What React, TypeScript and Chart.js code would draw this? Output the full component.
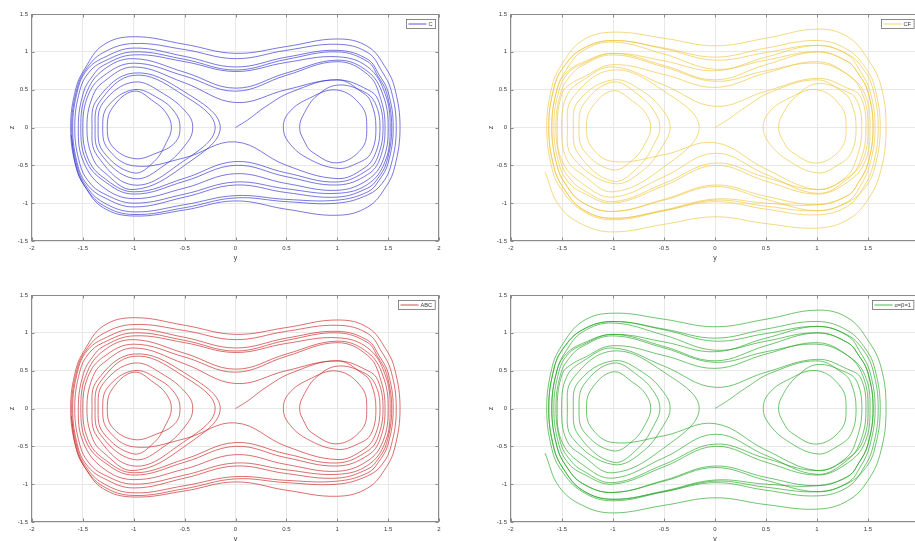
import React, { useEffect, useRef } from "react";
import { Chart, registerables } from "chart.js";

Chart.register(...registerables);

// ---------- data ----------
const X_TICKS = [-2, -1.5, -1, -0.5, 0, 0.5, 1, 1.5, 2];
const Z_TICKS = [-1.5, -1, -0.5, 0, 0.5, 1, 1.5];
const X_MIN = -2;
const X_MAX = 2;
const Z_MIN = -1.5;
const Z_MAX = 1.5;
const X_TITLE = "y";
const Z_TITLE = "z";
const LABELS = ["C", "CF", "ABC", "\u03b1=\u03b2=1"];

// phase trajectory (y, z) read from the upper-left / lower-left panels
const PATH_C: [number, number][] = [
  [0, 0], [0.12, 0.1], [0.3, 0.28], [0.55, 0.47], [1, 0.63], [1.25, 0.46], [1.33, 0.34], [1.38, 0], [1.33, -0.34],
  [1.2, -0.47], [1, -0.54], [0.7, -0.4], [0.52, -0.19], [0.47, 0], [0.52, 0.19],
  [0.7, 0.37], [1, 0.495], [1.24, 0.28], [1.29, 0], [1.24, -0.28], [1, -0.467], [0.75, -0.32], [0.68, -0.19], [0.63, 0], [0.68, 0.2],
  [0.8, 0.42], [1, 0.56], [1.25, 0.48], [1.37, 0.33], [1.42, 0], [1.37, -0.36], [1.25, -0.55], [1, -0.675], [0.5, -0.5], [0, -0.19], [-0.5, -0.4],
  [-1, -0.507], [-1.255, -0.28], [-1.305, 0], [-1.255, 0.28], [-1, 0.5], [-0.75, 0.38], [-0.595, 0.2], [-0.545, 0], [-0.595, -0.2],
  [-0.78, -0.34], [-1, -0.41], [-1.21, -0.25], [-1.26, 0], [-1.21, 0.26], [-1, 0.48], [-0.8, 0.34], [-0.68, 0.19], [-0.63, 0], [-0.68, -0.2],
  [-0.8, -0.45], [-1, -0.6], [-1.3, -0.32], [-1.35, 0], [-1.3, 0.33], [-1, 0.6], [-0.7, 0.44], [-0.47, 0.18], [-0.42, 0], [-0.47, -0.19],
  [-0.7, -0.5], [-1, -0.675], [-1.33, -0.34], [-1.38, 0], [-1.33, 0.35], [-1, 0.69], [-0.55, 0.46], [-0.2, 0], [-0.55, -0.48],
  [-1, -0.76], [-1.36, -0.37], [-1.41, 0], [-1.36, 0.37], [-1, 0.72], [-0.5, 0.47], [-0.15, 0], [-0.5, -0.5],
  [-1, -0.82], [-1.3, -0.58], [-1.41, -0.38],
  [-1.46, 0], [-1.41, 0.39], [-1.3, 0.6], [-1, 0.8], [-0.5, 0.59], [0, 0.33], [0.5, 0.5], [1, 0.63], [1.3, 0.5], [1.4, 0.37], [1.45, 0],
  [1.4, -0.38], [1.3, -0.56], [1, -0.72], [0.5, -0.6], [0, -0.45], [-0.5, -0.67], [-1, -0.85], [-1.3, -0.66], [-1.45, -0.41],
  [-1.5, 0], [-1.45, 0.42], [-1.3, 0.68], [-1, 0.85], [-0.5, 0.68], [0, 0.48], [0.5, 0.69], [1, 0.87], [1.3, 0.7], [1.42, 0.41], [1.47, 0],
  [1.42, -0.41], [1.3, -0.62], [1, -0.76], [0.5, -0.65], [0, -0.5], [-0.5, -0.71], [-1, -0.88], [-1.3, -0.7], [-1.47, -0.43],
  [-1.52, 0], [-1.47, 0.44], [-1.3, 0.76], [-1, 0.91], [-0.5, 0.73], [0, 0.52], [0.5, 0.72], [1, 0.89], [1.3, 0.74], [1.45, 0.43], [1.5, 0],
  [1.45, -0.43], [1.3, -0.69], [1, -0.83], [0.5, -0.74], [0, -0.61], [-0.5, -0.8], [-1, -0.94], [-1.3, -0.79], [-1.495, -0.45],
  [-1.545, 0], [-1.495, 0.46], [-1.405, 0.68], [-1.3, 0.82], [-1, 0.96], [-0.5, 0.87], [0, 0.74], [0.5, 0.86], [1, 0.935], [1.3, 0.8], [1.47, 0.45], [1.52, 0],
  [1.47, -0.45], [1.3, -0.75], [1, -0.87], [0.5, -0.81], [0, -0.72], [-0.5, -0.88], [-1, -1.0], [-1.3, -0.87], [-1.44, -0.72], [-1.53, -0.48],
  [-1.58, 0], [-1.53, 0.49], [-1.44, 0.73], [-1.3, 0.87], [-1, 1.0], [-0.5, 0.9], [0, 0.76], [0.5, 0.9], [1, 1.0], [1.3, 0.87], [1.395, 0.69], [1.485, 0.46], [1.535, 0],
  [1.485, -0.46], [1.395, -0.68], [1.3, -0.8], [1, -0.92], [0.5, -0.86], [0, -0.76], [-0.5, -0.92], [-1, -1.05], [-1.3, -0.92], [-1.46, -0.75], [-1.55, -0.5],
  [-1.6, 0], [-1.55, 0.5], [-1.46, 0.76], [-1.3, 0.92], [-1, 1.05], [-0.5, 0.94], [0, 0.8], [0.5, 0.93], [1, 1.02], [1.3, 0.9], [1.41, 0.7], [1.5, 0.47], [1.55, 0],
  [1.5, -0.47], [1.41, -0.7], [1.3, -0.85], [1, -0.96], [0.5, -0.95], [0, -0.9], [-0.5, -1.02], [-1, -1.115], [-1.3, -0.99], [-1.47, -0.77], [-1.56, -0.5],
  [-1.61, 0], [-1.56, 0.5], [-1.47, 0.77], [-1.3, 0.99], [-1, 1.11], [-0.5, 1.03], [0, 0.91], [0.5, 1.02], [1, 1.1], [1.3, 0.99], [1.44, 0.74], [1.53, 0.49], [1.58, 0],
  [1.53, -0.49], [1.44, -0.74], [1.3, -0.89], [1, -1.0], [0.5, -0.98], [0, -0.93], [-0.5, -1.06], [-1, -1.15], [-1.3, -1.03], [-1.48, -0.78], [-1.57, -0.51],
  [-1.62, 0], [-1.57, 0.51], [-1.48, 0.78], [-1.3, 1.09], [-1, 1.2], [-0.5, 1.1], [0, 0.98], [0.5, 1.07], [1, 1.17], [1.3, 1.07], [1.48, 0.78], [1.567, 0.51], [1.617, 0],
  [1.567, -0.51], [1.48, -0.78], [1.3, -1.05], [1, -1.16], [0.5, -1.08], [0, -0.97], [-0.5, -1.09], [-1, -1.17], [-1.3, -1.06], [-1.48, -0.78], [-1.57, -0.5], [-1.615, -0.1],
];

// phase trajectory (y, z) read from the upper-right / lower-right panels
const PATH_CF: [number, number][] = [
  [0, 0], [0.12, 0.1], [0.3, 0.27], [0.55, 0.47], [1, 0.63], [1.25, 0.47], [1.333, 0.34], [1.383, 0], [1.333, -0.34],
  [1.2, -0.5], [1, -0.6], [0.7, -0.42], [0.523, -0.19], [0.473, 0], [0.523, 0.19],
  [0.7, 0.37], [1, 0.5], [1.235, 0.28], [1.285, 0], [1.235, -0.28], [1, -0.47], [0.75, -0.32], [0.673, -0.19], [0.623, 0], [0.673, 0.2],
  [0.8, 0.42], [1, 0.58], [1.28, 0.48], [1.39, 0.36], [1.44, 0], [1.39, -0.4], [1.28, -0.66], [1, -0.82], [0.5, -0.55], [0, -0.2], [-0.5, -0.36],
  [-1, -0.45], [-1.21, -0.26], [-1.26, 0], [-1.21, 0.26], [-1, 0.485], [-0.8, 0.34], [-0.68, 0.19], [-0.63, 0], [-0.68, -0.2],
  [-0.8, -0.42], [-1, -0.56], [-1.283, -0.31], [-1.333, 0], [-1.283, 0.32], [-1, 0.6], [-0.75, 0.43], [-0.59, 0.2], [-0.54, 0], [-0.59, -0.2],
  [-0.75, -0.52], [-1, -0.71], [-1.339, -0.35], [-1.389, 0], [-1.339, 0.35], [-1, 0.63], [-0.7, 0.47], [-0.49, 0.19], [-0.44, 0], [-0.49, -0.19],
  [-0.7, -0.56], [-1, -0.74], [-1.397, -0.39], [-1.447, 0], [-1.397, 0.39], [-1, 0.76], [-0.5, 0.48], [-0.155, 0], [-0.5, -0.52],
  [-1, -0.85], [-1.3, -0.62], [-1.454, -0.42],
  [-1.504, 0], [-1.454, 0.42], [-1.3, 0.62], [-1, 0.8], [-0.5, 0.56], [0, 0.28], [0.5, 0.48], [1, 0.65], [1.3, 0.52], [1.43, 0.4], [1.48, 0],
  [1.43, -0.42], [1.3, -0.68], [1, -0.87], [0.5, -0.62], [0, -0.34], [-0.5, -0.65], [-1, -0.92], [-1.3, -0.74], [-1.497, -0.45],
  [-1.547, 0], [-1.497, 0.46], [-1.41, 0.58], [-1.3, 0.66], [-1, 0.83], [-0.5, 0.7], [0, 0.53], [0.5, 0.72], [1, 0.87], [1.3, 0.7], [1.45, 0.43], [1.5, 0],
  [1.45, -0.43], [1.3, -0.66], [1, -0.82], [0.5, -0.66], [0, -0.47], [-0.5, -0.74], [-1, -0.98], [-1.3, -0.82], [-1.42, -0.68], [-1.51, -0.47],
  [-1.56, 0], [-1.51, 0.47], [-1.42, 0.68], [-1.3, 0.82], [-1, 0.96], [-0.5, 0.8], [0, 0.61], [0.5, 0.75], [1, 0.85], [1.3, 0.7], [1.47, 0.44], [1.52, 0],
  [1.47, -0.45], [1.3, -0.72], [1, -0.88], [0.5, -0.71], [0, -0.5], [-0.5, -0.77], [-1, -1.0], [-1.3, -0.86], [-1.44, -0.72], [-1.53, -0.48],
  [-1.58, 0], [-1.53, 0.49], [-1.44, 0.72], [-1.3, 0.84], [-1, 0.98], [-0.5, 0.82], [0, 0.63], [0.5, 0.83], [1, 1.0], [1.3, 0.87], [1.41, 0.7], [1.5, 0.47], [1.55, 0],
  [1.5, -0.47], [1.41, -0.72], [1.3, -0.9], [1, -1.02], [0.5, -0.91], [0, -0.76], [-0.5, -0.95], [-1, -1.11], [-1.3, -0.99], [-1.46, -0.76], [-1.55, -0.5],
  [-1.6, 0], [-1.55, 0.5], [-1.46, 0.72], [-1.3, 0.86], [-1, 0.98], [-0.5, 0.88], [0, 0.75], [0.5, 0.93], [1, 1.085], [1.3, 0.96], [1.43, 0.73], [1.52, 0.48], [1.57, 0],
  [1.52, -0.48], [1.43, -0.76], [1.3, -0.98], [1, -1.1], [0.5, -0.95], [0, -0.78], [-0.5, -0.96], [-1, -1.11], [-1.3, -0.99], [-1.46, -0.76], [-1.55, -0.5],
  [-1.6, 0], [-1.55, 0.5], [-1.46, 0.76], [-1.3, 1.01], [-1, 1.13], [-0.5, 0.97], [0, 0.77], [0.5, 0.89], [1, 1.0], [1.3, 0.87], [1.41, 0.7], [1.5, 0.47], [1.55, 0],
  [1.5, -0.47], [1.41, -0.72], [1.3, -0.9], [1, -1.02], [0.5, -1.0], [0, -0.945], [-0.5, -1.09], [-1, -1.2], [-1.3, -1.08], [-1.49, -0.79], [-1.58, -0.52],
  [-1.63, 0], [-1.58, 0.52], [-1.49, 0.79], [-1.3, 1.04], [-1, 1.15], [-0.5, 1.04], [0, 0.89], [0.5, 0.99], [1, 1.085], [1.3, 0.97], [1.46, 0.76], [1.55, 0.5], [1.6, 0],
  [1.55, -0.5], [1.46, -0.78], [1.3, -1.04], [1, -1.155], [0.5, -1.08], [0, -0.98], [-0.5, -1.1], [-1, -1.2], [-1.3, -1.08], [-1.49, -0.79], [-1.58, -0.52],
  [-1.63, 0], [-1.58, 0.52], [-1.49, 0.79], [-1.3, 1.04], [-1, 1.15], [-0.5, 1.05], [0, 0.93], [0.5, 1.05], [1, 1.15], [1.3, 1.03], [1.48, 0.78], [1.57, 0.51], [1.62, 0],
  [1.57, -0.51], [1.48, -0.78], [1.3, -0.99], [1, -1.1], [0.5, -1.04], [0, -0.96], [-0.5, -1.1], [-1, -1.22], [-1.3, -1.1], [-1.51, -0.81], [-1.6, -0.53],
  [-1.65, 0], [-1.6, 0.53], [-1.51, 0.815], [-1.3, 1.15], [-1, 1.26], [-0.5, 1.18], [0, 1.08], [0.5, 1.18], [1, 1.3], [1.3, 1.2], [1.5, 0.9], [1.627, 0.55], [1.677, 0],
  [1.627, -0.56], [1.5, -0.95], [1.3, -1.22], [1, -1.33], [0.5, -1.27], [0, -1.18], [-0.5, -1.28], [-1, -1.38], [-1.3, -1.28], [-1.53, -1.03], [-1.666, -0.59],
];

// ---------- styling ----------
const FONT = '"Liberation Sans", Arial, Helvetica, sans-serif';
const TEXT_COLOR = "#3a3a3a";
const AXIS_COLOR = "#8a8a8a";
const GRID_COLOR = "#e8e8e8";
const AXIS_W = 32;
const AXIS_H = 21;
const PAD_T = 14;
const PAD_R = 21;
const PAD_B = 8;

type PanelProps = {
  left: number;
  top: number;
  areaW: number;
  areaH: number;
  path: [number, number][];
  color: string;
  label: string;
  legendInset: number;
};

function makeFramePlugin(label: string, color: string, inset: number) {
  return {
    id: "matlabFrame",
    afterDatasetsDraw(chart: any) {
      const { ctx, chartArea: a, scales } = chart;
      ctx.save();
      const l = Math.round(a.left) - 0.5;
      const r = Math.round(a.right) - 0.5;
      const t = Math.round(a.top) + 0.5;
      const b = Math.round(a.bottom) - 0.5;
      ctx.strokeStyle = AXIS_COLOR;
      ctx.lineWidth = 1;
      ctx.strokeRect(l, t, r - l, b - t);
      ctx.beginPath();
      for (const v of X_TICKS) {
        const px = Math.round(scales.x.getPixelForValue(v)) + 0.5;
        ctx.moveTo(px, b);
        ctx.lineTo(px, b - 3);
        ctx.moveTo(px, t);
        ctx.lineTo(px, t + 3);
      }
      for (const v of Z_TICKS) {
        const py = Math.round(scales.y.getPixelForValue(v)) + 0.5;
        ctx.moveTo(l, py);
        ctx.lineTo(l + 3, py);
        ctx.moveTo(r, py);
        ctx.lineTo(r - 3, py);
      }
      ctx.stroke();

      // legend box
      ctx.font = `5.7px ${FONT}`;
      const tw = ctx.measureText(label).width;
      const lineLen = 18;
      const w = 2 + lineLen + 2 + tw + 3;
      const h = 9;
      const right = a.right - inset;
      const lx = Math.round(right - w) + 0.5;
      const ly = Math.round(a.top + 5) + 0.5;
      ctx.fillStyle = "#ffffff";
      ctx.fillRect(lx, ly, w, h);
      ctx.strokeStyle = "#6f6f6f";
      ctx.lineWidth = 0.8;
      ctx.strokeRect(lx, ly, w, h);
      ctx.strokeStyle = color;
      ctx.lineWidth = 0.8;
      ctx.beginPath();
      ctx.moveTo(lx + 2, ly + h / 2);
      ctx.lineTo(lx + 2 + lineLen, ly + h / 2);
      ctx.stroke();
      ctx.fillStyle = TEXT_COLOR;
      ctx.textBaseline = "middle";
      ctx.textAlign = "left";
      ctx.fillText(label, lx + 2 + lineLen + 2, ly + h / 2 + 0.5);
      ctx.restore();
    },
  };
}

function Panel({ left, top, areaW, areaH, path, color, label, legendInset }: PanelProps) {
  const ref = useRef<HTMLCanvasElement | null>(null);
  const W = AXIS_W + areaW + PAD_R;
  const H = PAD_T + areaH + AXIS_H + PAD_B;

  useEffect(() => {
    const canvas = ref.current;
    if (!canvas) return;
    const tickFont = { family: FONT, size: 6 };
    const titleFont = { family: FONT, size: 7 };
    const chart = new Chart(canvas, {
      type: "scatter",
      data: {
        datasets: [
          {
            label,
            data: path.map(([y, z]) => ({ x: y, y: z })),
            showLine: true,
            borderColor: color,
            borderWidth: 0.65,
            pointRadius: 0,
            pointHoverRadius: 0,
            tension: 0.4,
            fill: false,
          },
        ],
      },
      options: {
        responsive: false,
        animation: false,
        devicePixelRatio: 1,
        events: [],
        layout: { padding: { top: PAD_T, left: 0, right: PAD_R, bottom: PAD_B } },
        plugins: { legend: { display: false }, tooltip: { enabled: false } },
        scales: {
          x: {
            type: "linear",
            min: X_MIN,
            max: X_MAX,
            afterBuildTicks: (s: any) => {
              s.ticks = X_TICKS.map((v) => ({ value: v }));
            },
            afterFit: (s: any) => {
              s.height = AXIS_H;
            },
            ticks: {
              callback: (v: any) => String(v),
              font: tickFont,
              color: TEXT_COLOR,
              padding: 4,
              maxRotation: 0,
              autoSkip: false,
            },
            grid: { color: GRID_COLOR, drawTicks: false, lineWidth: 1 },
            border: { display: false },
            title: { display: true, text: X_TITLE, font: titleFont, color: TEXT_COLOR, padding: 0 },
          },
          y: {
            type: "linear",
            min: Z_MIN,
            max: Z_MAX,
            afterBuildTicks: (s: any) => {
              s.ticks = Z_TICKS.map((v) => ({ value: v }));
            },
            afterFit: (s: any) => {
              s.width = AXIS_W;
            },
            ticks: {
              callback: (v: any) => String(v),
              font: tickFont,
              color: TEXT_COLOR,
              padding: 4,
              autoSkip: false,
            },
            grid: { color: GRID_COLOR, drawTicks: false, lineWidth: 1 },
            border: { display: false },
            title: {
              display: true,
              text: Z_TITLE,
              font: titleFont,
              color: TEXT_COLOR,
              padding: { top: 7.5, bottom: 0 },
            },
          },
        },
      },
      plugins: [makeFramePlugin(label, color, legendInset)],
    } as any);
    return () => chart.destroy();
  }, [path, color, label, legendInset]);

  return (
    <canvas
      ref={ref}
      width={W}
      height={H}
      style={{ position: "absolute", left: left - AXIS_W, top: top - PAD_T, width: W, height: H, display: "block" }}
    />
  );
}

export default function App() {
  return (
    <div
      style={{
        position: "absolute",
        left: 0,
        top: 0,
        width: 915,
        height: 541,
        overflow: "hidden",
        background: "#ffffff",
      }}
    >
      <Panel left={32} top={14} areaW={407} areaH={227} path={PATH_C} color="#2e2ecc" label={LABELS[0]} legendInset={4.3} />
      <Panel left={511} top={14} areaW={408} areaH={227} path={PATH_CF} color="#eec53c" label={LABELS[1]} legendInset={5.7} />
      <Panel left={32} top={295} areaW={407} areaH={227} path={PATH_C} color="#c82020" label={LABELS[2]} legendInset={4.3} />
      <Panel left={511} top={295} areaW={408} areaH={227} path={PATH_CF} color="#22a422" label={LABELS[3]} legendInset={5.7} />
    </div>
  );
}
